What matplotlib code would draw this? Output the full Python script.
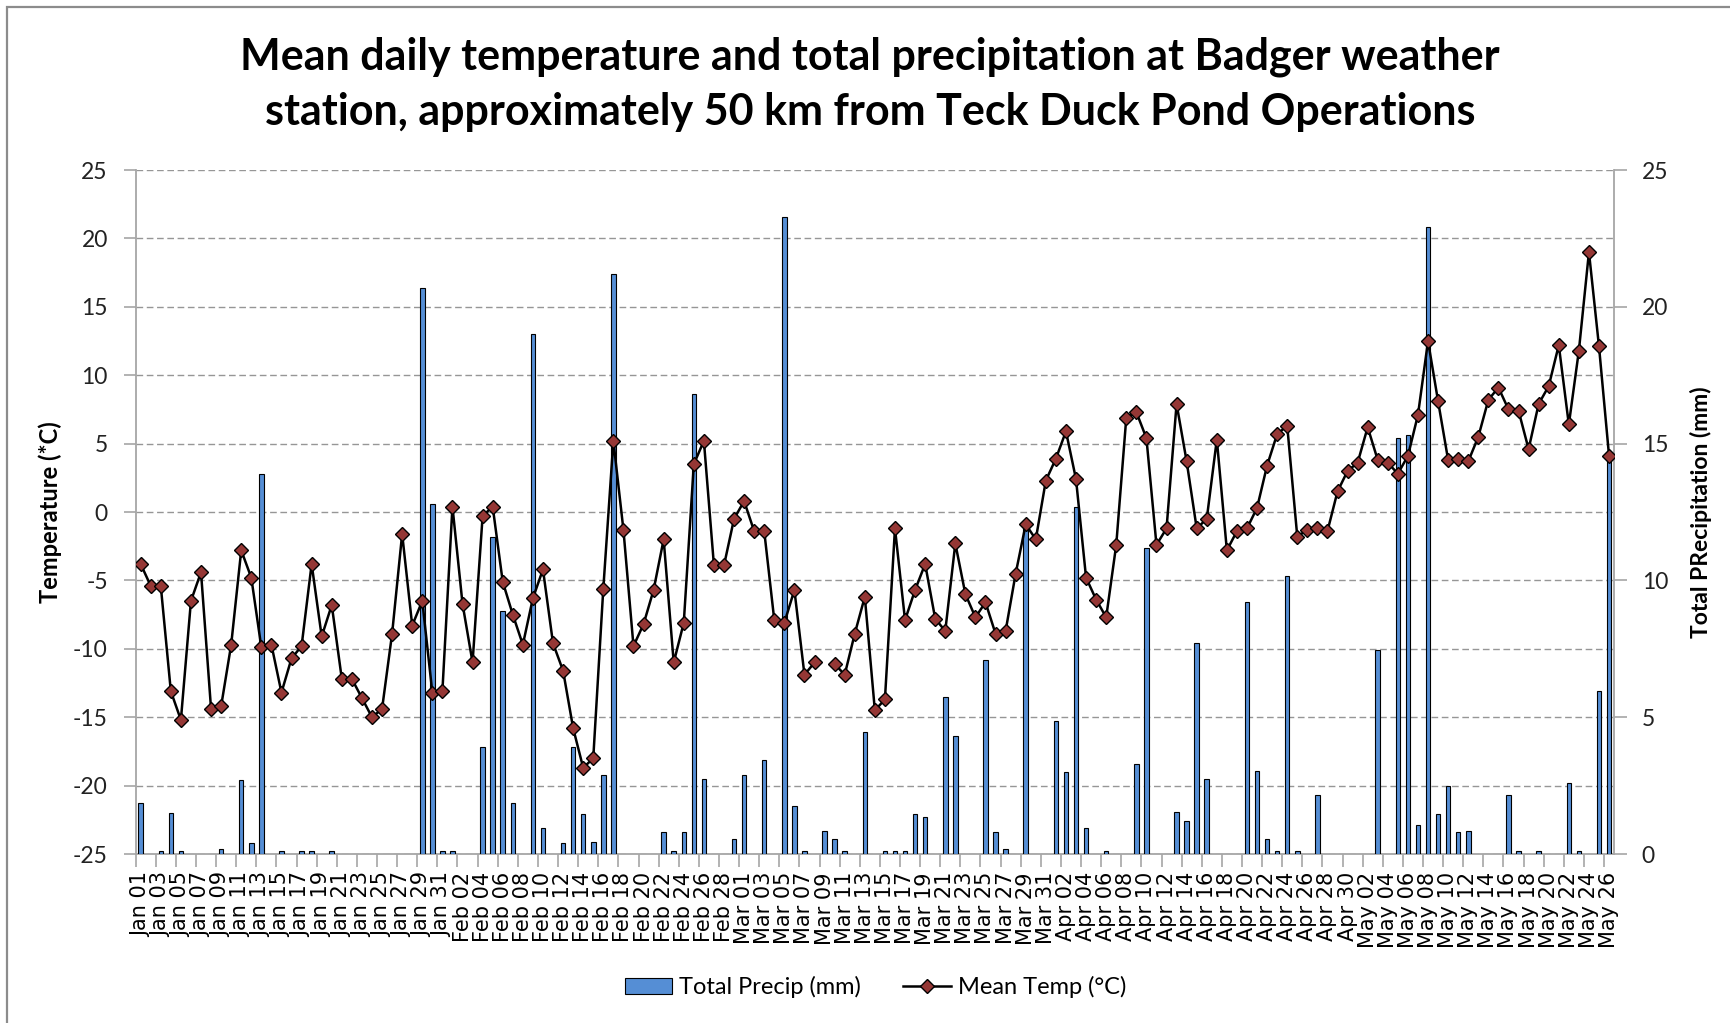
import numpy as np
import pandas as pd
import matplotlib
matplotlib.use("Agg")
import matplotlib.pyplot as plt
from matplotlib.lines import Line2D
from matplotlib.patches import Patch, Rectangle

# daily series, 2012 (leap year) Jan 01 .. May 26
DATES = pd.date_range("2012-01-01", "2012-05-26", freq="D")
TEMP = [
    -3.8, -5.4, -5.4, -13.1, -15.2, -6.5, -4.4, -14.4, -14.2, -9.7,
    -2.8, -4.8, -9.9, -9.7, -13.2, -10.7, -9.8, -3.8, -9.1, -6.8,
    -12.2, -12.2, -13.6, -15.0, -14.4, -8.9, -1.6, -8.3, -6.5, -13.2,
    -13.1, 0.4, -6.7, -11.0, -0.3, 0.4, -5.1, -7.5, -9.7, -6.3,
    -4.2, -9.6, -11.6, -15.8, -18.7, -18.0, -5.6, 5.2, -1.3, -9.8,
    -8.2, -5.7, -2.0, -11.0, -8.1, 3.5, 5.2, -3.9, -3.9, -0.5,
    0.8, -1.4, -1.4, -7.9, -8.1, -5.7, -11.9, -11.0, np.nan, -11.1,
    -11.9, -8.9, -6.2, -14.5, -13.7, -1.2, -7.9, -5.7, -3.8, -7.8,
    -8.7, -2.3, -6.0, -7.7, -6.6, -8.9, -8.7, -4.5, -0.9, -2.0,
    2.3, 3.9, 5.9, 2.4, -4.8, -6.4, -7.7, -2.4, 6.9, 7.3,
    5.4, -2.4, -1.2, 7.9, 3.7, -1.2, -0.5, 5.3, -2.8, -1.4,
    -1.2, 0.3, 3.4, 5.7, 6.3, -1.8, -1.3, -1.2, -1.4, 1.5,
    3.0, 3.6, 6.2, 3.8, 3.6, 2.8, 4.1, 7.1, 12.5, 8.1,
    3.8, 3.9, 3.7, 5.5, 8.2, 9.1, 7.5, 7.4, 4.6, 7.9,
    9.2, 12.2, 6.4, 11.8, 19.0, 12.1, 4.1,
]
PRECIP = [
    1.85, 0, 0.1, 1.5, 0.1, 0, 0, 0, 0.2, 0,
    2.7, 0.4, 13.9, 0, 0.1, 0, 0.1, 0.1, 0, 0.1,
    0, 0, 0, 0, 0, 0, 0, 0, 20.7, 12.8,
    0.1, 0.1, 0, 0, 3.9, 11.6, 8.9, 1.85, 0, 19.0,
    0.95, 0, 0.4, 3.9, 1.45, 0.45, 2.9, 21.2, 0, 0,
    0, 0, 0.8, 0.1, 0.8, 16.8, 2.75, 0, 0, 0.55,
    2.9, 0, 3.45, 0, 23.3, 1.75, 0.1, 0, 0.85, 0.55,
    0.1, 0, 4.45, 0, 0.1, 0.1, 0.1, 1.45, 1.35, 0,
    5.75, 4.3, 0, 0, 7.1, 0.8, 0.2, 0, 11.9, 0,
    0, 4.85, 3.0, 12.7, 0.95, 0, 0.1, 0, 0, 3.3,
    11.2, 0, 0, 1.55, 1.2, 7.7, 2.75, 0, 0, 0,
    9.2, 3.05, 0.55, 0.1, 10.15, 0.1, 0, 2.15, 0, 0,
    0, 0, 0, 7.45, 0, 15.2, 15.3, 1.05, 22.9, 1.45,
    2.5, 0.8, 0.85, 0, 0, 0, 2.15, 0.1, 0, 0.1,
    0, 0, 2.6, 0.1, 0, 5.95, 14.5,
]
TEMP_TICKS = [-25, -20, -15, -10, -5, 0, 5, 10, 15, 20, 25]
PRECIP_TICKS = [0, 5, 10, 15, 20, 25]

TITLE = ("Mean daily temperature and total precipitation at Badger weather\n"
         "station, approximately 50 km from Teck Duck Pond Operations")

BAR_C = "#558ED5"
MARK_C = "#953735"
AXIS_C = "#a6a6a6"
GRID_C = "#969696"
SANS = ["Lato", "DejaVu Sans"]

plt.rcParams["font.family"] = SANS
plt.rcParams["axes.unicode_minus"] = False

x = np.arange(len(DATES))
temp = np.array(TEMP, dtype=float)
precip = np.array(PRECIP, dtype=float)
labels = DATES.strftime("%b %d")

fig = plt.figure(figsize=(17.3, 10.23), dpi=100)
fig.patches.append(Rectangle((0.004, -0.05), 1.2, 1.043, transform=fig.transFigure,
                             fill=False, edgecolor="#8c8c8c", lw=1.6))

ax = fig.add_axes([0.0784, 0.1652, 0.933 - 0.0784, 0.8338 - 0.1652])
ax.set_xlim(-0.5, len(x) - 0.5)
ax.set_ylim(-25, 25)
ax.set_yticks(TEMP_TICKS)
ax.grid(axis="y", color=GRID_C, lw=1.0, linestyle=(0, (4.8, 2.6)))
ax.set_axisbelow(True)
for s in ("top", "right"):
    ax.spines[s].set_visible(False)
for s in ("left", "bottom"):
    ax.spines[s].set_color(AXIS_C)
    ax.spines[s].set_linewidth(1.3)
ax.tick_params(axis="y", length=9, width=1.2, color=AXIS_C, pad=11,
               labelsize=16.5, labelcolor="#222222")

# ticks between categories every 2 days, labels centred on every 2nd day
ax.set_xticks(np.arange(-0.5, len(x), 2))
ax.set_xticklabels([])
ax.set_xticks(x[::2], labels[::2], minor=True)
ax.tick_params(axis="x", which="major", length=9, width=1.2, color=AXIS_C)
ax.tick_params(axis="x", which="minor", length=0, pad=13, labelsize=15,
               rotation=90, labelcolor="black")
for t in ax.get_xticklabels(minor=True):
    t.set_fontfamily("DejaVu Sans")
ax.set_ylabel("Temperature (*C)", fontsize=17, fontweight="bold")
ax.yaxis.set_label_coords(-0.05, 0.5)

# precipitation bars on the secondary axis
ax2 = ax.twinx()
wet = precip > 0
ax2.bar(x[wet], precip[wet], width=0.45, color=BAR_C, edgecolor="black",
        linewidth=0.8, zorder=2)
ax2.set_ylim(0, 25)
ax2.set_yticks(PRECIP_TICKS)
for s in ("top", "left", "bottom"):
    ax2.spines[s].set_visible(False)
ax2.spines["right"].set_color(AXIS_C)
ax2.spines["right"].set_linewidth(1.3)
ax2.tick_params(axis="y", length=9, width=1.2, color=AXIS_C, pad=11,
                labelsize=16.5, labelcolor="#222222")
ax2.set_ylabel("Total PRecipitation (mm)", fontsize=16.5, fontweight="bold")
ax2.yaxis.set_label_coords(1.051, 0.5)

# temperature line drawn over the bars
ax3 = ax.twinx()
ax3.set_ylim(-25, 25)
ax3.plot(x, temp, color="black", lw=1.8, marker="D", markersize=7.5,
         markerfacecolor=MARK_C, markeredgecolor="black", markeredgewidth=1.0)
ax3.axis("off")

fig.text(0.503, 0.918, TITLE, ha="center", va="center", fontsize=31,
         fontweight="bold", linespacing=1.45)

handles = [
    Patch(facecolor=BAR_C, edgecolor="black", linewidth=0.8),
    Line2D([], [], color="black", lw=1.8, marker="D", markersize=7.5,
           markerfacecolor=MARK_C, markeredgecolor="black"),
]
fig.legend(handles, ["Total Precip (mm)", "Mean Temp (°C)"], loc="center",
           bbox_to_anchor=(0.506, 0.035), ncol=2, frameon=False, fontsize=17,
           handlelength=2.0, handletextpad=0.3, columnspacing=1.8)

fig.savefig("out.png", dpi=100, facecolor="white")
